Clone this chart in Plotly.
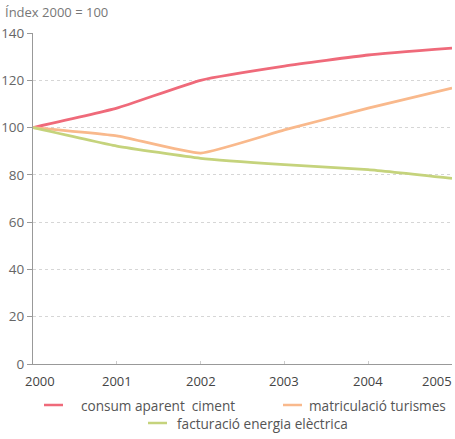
import plotly.graph_objects as go

years = [2000, 2001, 2002, 2003, 2004, 2005]
ciment = [100, 108.2, 120, 126, 130.7, 133.6]
turismes = [100, 96.5, 89.2, 99, 108.2, 116.7]
energia = [100, 92.2, 87.0, 84.3, 82.2, 78.5]
names = ["consum aparent  ciment", "matriculació turismes", "facturació energia elèctrica"]
colors = ["#ef6a7a", "#f9b98c", "#c5d37c"]
y_ticks = [0, 20, 40, 60, 80, 100, 120, 140]

W, H = 455, 439
L, R, T, B = 33, 3, 33, 75
PW, PH = W - L - R, H - T - B

fig = go.Figure()
for vals, name, col in zip([ciment, turismes, energia], names, colors):
    fig.add_trace(go.Scatter(x=years, y=vals, mode="lines", name=name,
                             line=dict(color=col, width=2.8, shape="spline", smoothing=0.4),
                             showlegend=False, cliponaxis=False))

fig.update_layout(
    width=W, height=H,
    margin=dict(l=L, r=R, t=T, b=B),
    paper_bgcolor="white", plot_bgcolor="white",
    font=dict(family="Open Sans, DejaVu Sans, sans-serif", color="#555", size=12),
)
fig.update_xaxes(range=[2000, 2005], tickvals=years, showticklabels=False,
                 showgrid=False, showline=True, linecolor="#999", linewidth=1,
                 ticks="inside", ticklen=3, tickcolor="#ccc",
                 zeroline=False, automargin=False)
fig.update_yaxes(range=[0, 140], tickvals=y_ticks,
                 showgrid=True, gridcolor="#d6d6d6", griddash="dot", gridwidth=1,
                 showline=True, linecolor="#999", linewidth=1,
                 ticks="outside", ticklen=5, tickcolor="#999",
                 tickfont=dict(size=13.5, color="#666"), zeroline=False, automargin=False)

# x tick labels (first and last nudged inward like the reference)
for i, yr in enumerate(years):
    anchor, shift = "center", 0
    if i == 0:
        shift = 7
    elif i == len(years) - 1:
        anchor = "right"
        shift = 2
    fig.add_annotation(text=str(yr), x=yr, y=0, xref="x", yref="y",
                       xanchor=anchor, yanchor="middle", xshift=shift, yshift=-17,
                       showarrow=False, font=dict(size=13, color="#444"))

def pxx(p):
    return (p - L) / PW

def pxy(p):
    return (H - B - p) / PH

fig.add_annotation(text="Índex 2000 = 100", xref="paper", yref="paper",
                   x=pxx(3), y=pxy(12), xanchor="left", yanchor="middle",
                   showarrow=False, font=dict(size=13, color="#777"))

# legend (manual, centered rows)
legend_items = [
    (names[0], colors[0], 44, 79, 405),
    (names[1], colors[1], 283, 307, 405),
    (names[2], colors[2], 148, 175, 423),
]
for name, col, lx, tx, ly in legend_items:
    fig.add_shape(type="line", xref="paper", yref="paper",
                  x0=pxx(lx), x1=pxx(lx + 19), y0=pxy(ly), y1=pxy(ly),
                  line=dict(color=col, width=2.5))
    fig.add_annotation(text=name, xref="paper", yref="paper",
                       x=pxx(tx), y=pxy(ly), xanchor="left", yanchor="middle",
                       showarrow=False, font=dict(size=13.6, color="#555"))

fig.write_html("out.html", config={"displayModeBar": False},
               post_script="document.body.style.margin='0';document.body.style.overflow='hidden';")
